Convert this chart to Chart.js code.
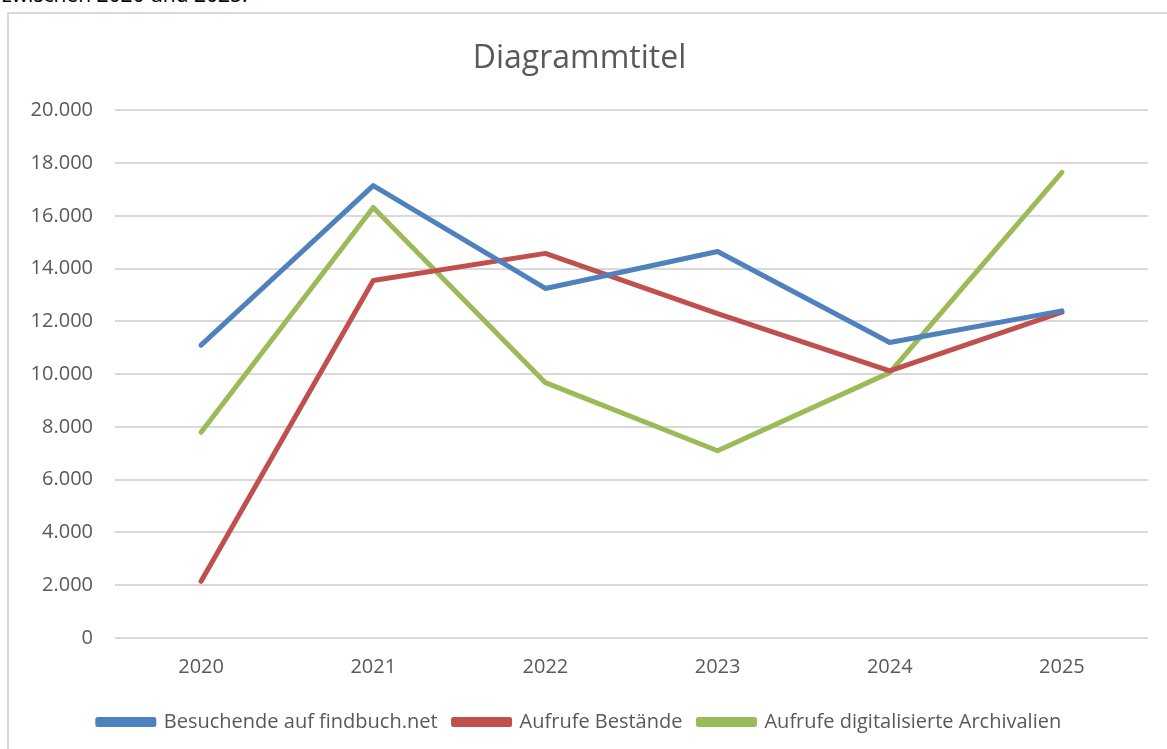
<!DOCTYPE html>
<html lang="de">
<head>
<meta charset="utf-8">
<script src="https://cdn.jsdelivr.net/npm/chart.js@4/dist/chart.umd.min.js"></script>
<style>
  html, body { margin: 0; padding: 0; background: #fff; overflow: hidden; }
  body { width: 1167px; height: 749px; position: relative; font-family: "Open Sans", "Liberation Sans", sans-serif; }
  #intro { position: absolute; left: 2px; top: -20px; font-size: 21px; color: #000; white-space: nowrap; }
  #box { position: absolute; left: 7px; top: 12px; width: 1170px; height: 750px; border: 2px solid #d9d9d9; box-sizing: border-box; }
  #wrap { position: absolute; left: 2px; top: 0; width: 1158px; height: 737px; }
</style>
</head>
<body>
<div id="intro">zwischen 2020 und 2025:</div>
<div id="box">
  <div id="wrap"><canvas id="lineChart"></canvas></div>
</div>
<script>
const years = ['2020', '2021', '2022', '2023', '2024', '2025'];
const besuchende = [11100, 17150, 13250, 14650, 11200, 12400];
const aufrufeBestaende = [2150, 13550, 14580, 12300, 10130, 12350];
const aufrufeDigital = [7800, 16320, 9680, 7100, 10060, 17650];

const colors = {
  blue: '#4f81bd',
  red: '#c0504d',
  green: '#9bbb59',
  text: '#595959',
  grid: '#d9d9d9'
};

const fmt = v => String(v).replace(/\B(?=(\d{3})+(?!\d))/g, '.');

const makeSet = (label, data, color) => ({
  label: label,
  data: data,
  borderColor: color,
  backgroundColor: color,
  borderWidth: 5,
  pointRadius: 0,
  tension: 0,
  borderCapStyle: 'round',
  borderJoinStyle: 'round'
});

new Chart(document.getElementById('lineChart').getContext('2d'), {
  type: 'line',
  data: {
    labels: years,
    datasets: [
      makeSet('Besuchende auf findbuch.net', besuchende, colors.blue),
      makeSet('Aufrufe Bestände', aufrufeBestaende, colors.red),
      makeSet('Aufrufe digitalisierte Archivalien', aufrufeDigital, colors.green)
    ]
  },
  options: {
    responsive: true,
    maintainAspectRatio: false,
    animation: false,
    layout: { padding: { left: 0, right: 21, top: 26, bottom: 9 } },
    plugins: {
      title: {
        display: true,
        text: 'Diagrammtitel',
        color: colors.text,
        font: { family: 'Open Sans', size: 32, weight: 'normal' },
        padding: { top: 0, bottom: 32 }
      },
      legend: {
        position: 'bottom',
        labels: {
          color: colors.text,
          font: { family: 'Open Sans', size: 20 },
          boxWidth: 56,
          boxHeight: 5,
          padding: 16
        }
      },
      tooltip: { enabled: false }
    },
    scales: {
      y: {
        min: 0,
        max: 20000,
        ticks: {
          stepSize: 2000,
          color: colors.text,
          font: { family: 'Open Sans', size: 20 },
          padding: 22,
          callback: v => fmt(v)
        },
        grid: { color: colors.grid, lineWidth: 2, drawTicks: false },
        border: { display: false },
        afterFit: s => { s.width = 104; }
      },
      x: {
        offset: true,
        ticks: {
          color: colors.text,
          font: { family: 'Open Sans', size: 20 },
          padding: 17
        },
        grid: { display: false, drawTicks: false },
        border: { display: false }
      }
    }
  }
});
</script>
</body>
</html>
